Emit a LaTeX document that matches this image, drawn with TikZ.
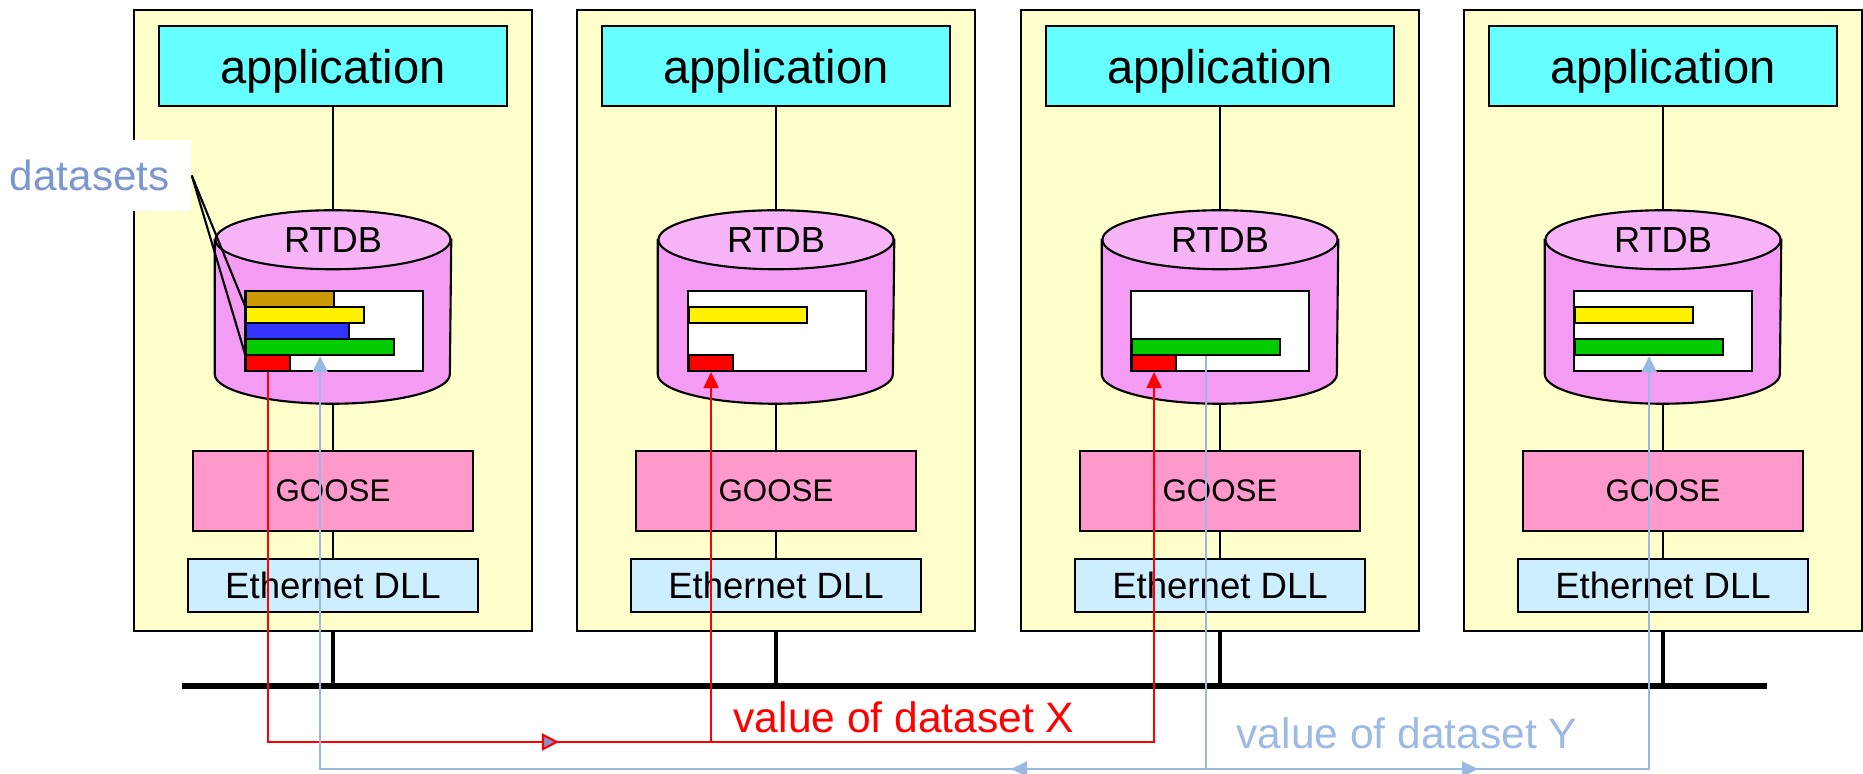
\documentclass[tikz,border=0pt]{standalone}
\usepackage{tikz}
\usepackage{xcolor}
\usepackage{fontspec}
\setmainfont{Liberation Sans}
\usetikzlibrary{arrows.meta}

\definecolor{devicebg}{HTML}{FFFFCC}
\definecolor{appcyan}{HTML}{66FFFF}
\definecolor{dbside}{HTML}{F49BF4}
\definecolor{dbtop}{HTML}{F6B3F6}
\definecolor{goosepink}{HTML}{FF99CC}
\definecolor{ethblue}{HTML}{CCEEFF}
\definecolor{barbrown}{HTML}{CC9900}
\definecolor{barblue}{HTML}{3333FF}
\definecolor{bargreen}{HTML}{00CC00}
\definecolor{flowblue}{HTML}{99B9E3}
\definecolor{labelblue}{HTML}{9DB9E4}
\definecolor{datasetblue}{HTML}{7C97CF}

\tikzset{
    >               = {Triangle[length=0.16cm,width=0.15cm]},
    device/.style = {
        rectangle,
        draw,
        fill            = devicebg,
        line width      = 0.6pt,
        minimum width   = 3.98cm,
        minimum height  = 6.21cm,
    },
    app/.style = {
        rectangle,
        draw,
        fill            = appcyan,
        line width      = 0.6pt,
        minimum width   = 3.48cm,
        minimum height  = 0.80cm,
        text depth      = 0pt,
        font            = \fontsize{13.4}{16}\selectfont,
    },
    rtdb/.style = {
        rectangle,
        inner sep       = 0pt,
        minimum width   = 2.35cm,
        minimum height  = 1.92cm,
    },
    dbbody/.style = {
        fill            = dbside,
        draw,
        line width      = 0.6pt,
    },
    dbcap/.style = {
        fill            = dbtop,
        draw,
        line width      = 0.6pt,
    },
    dblabel/.style = {
        inner sep       = 0pt,
        font            = \fontsize{10.3}{12}\selectfont,
    },
    datatable/.style = {
        rectangle,
        draw,
        fill            = white,
        line width      = 0.6pt,
        inner sep       = 0pt,
        minimum width   = 1.78cm,
        minimum height  = 0.80cm,
    },
    bar/.style = {
        rectangle,
        draw,
        line width      = 0.6pt,
        inner sep       = 0pt,
        minimum height  = 0.16cm,
        anchor          = west,
    },
    goose/.style = {
        rectangle,
        draw,
        fill            = goosepink,
        line width      = 0.6pt,
        minimum width   = 2.80cm,
        minimum height  = 0.80cm,
        font            = \fontsize{8.9}{11}\selectfont,
    },
    ethernet/.style = {
        rectangle,
        draw,
        fill            = ethblue,
        line width      = 0.6pt,
        minimum width   = 2.89cm,
        minimum height  = 0.53cm,
        font            = \fontsize{10.4}{12}\selectfont,
    },
    datasets/.style = {
        rectangle,
        fill            = white,
        text            = datasetblue,
        text width      = 1.71cm,
        align           = left,
        inner xsep      = 0.1cm,
        minimum height  = 0.71cm,
        font            = \fontsize{12}{14}\selectfont,
    },
    flowtext/.style = {
        anchor          = base west,
        inner sep       = 0pt,
        font            = \fontsize{12.1}{14}\selectfont,
    },
    link/.style = {
        line width      = 0.6pt,
    },
    stub/.style = {
        line width      = 1.4pt,
    },
    bus/.style = {
        line width      = 1.9pt,
    },
    xflow/.style = {
        draw            = red,
        line width      = 0.6pt,
    },
    yflow/.style = {
        draw            = flowblue,
        line width      = 0.6pt,
    },
}

% drum of an RTDB node
\newcommand{\rtdbdrum}[1]{%
  \filldraw[dbbody] ([yshift=-0.295cm]#1.north west) -- ([yshift=0.295cm]#1.south west)
    arc[start angle=180,end angle=360,x radius=1.175cm,y radius=0.295cm]
    -- ([yshift=-0.295cm]#1.north east) -- cycle;
  \filldraw[dbcap] ([yshift=-0.295cm]#1.north) ellipse[x radius=1.175cm,y radius=0.295cm];
}

\begin{document}
\begin{tikzpicture}[x=0.01cm,y=-0.01cm]
  \useasboundingbox (0,0) rectangle (1863,774);

  % Device 1
  \node[device] (Device1) at (333,320.5) {};
  \node[app] (App1) at (333,66) {application};
  \node[rtdb] (Db1) at (333,307) {};
  \rtdbdrum{Db1}
  \node[dblabel] (DbLabel1) at (333,240) {RTDB};
  \node[datatable] (Table1) at (334,331) {};
  \node[bar,fill=barbrown,minimum width=0.88cm] (Brown1) at (245,299) {};
  \node[bar,fill=yellow,minimum width=1.18cm] (Yellow1) at (245,315) {};
  \node[bar,fill=barblue,minimum width=1.03cm] (Blue1) at (245,331) {};
  \node[bar,fill=bargreen,minimum width=1.48cm] (Green1) at (245,347) {};
  \node[bar,fill=red,minimum width=0.44cm] (Red1) at (245,363) {};
  \node[goose] (Goose1) at (333,491) {GOOSE};
  \node[ethernet] (Eth1) at (333,585.5) {Ethernet DLL};

  \draw[-,link] (App1) to (Db1);
  \draw[-,link] (Db1) to (Goose1);
  \draw[-,link] (Goose1) to (Eth1);

  % Device 2
  \node[device] (Device2) at (776,320.5) {};
  \node[app] (App2) at (776,66) {application};
  \node[rtdb] (Db2) at (776,307) {};
  \rtdbdrum{Db2}
  \node[dblabel] (DbLabel2) at (776,240) {RTDB};
  \node[datatable] (Table2) at (777,331) {};
  \node[bar,fill=yellow,minimum width=1.18cm] (Yellow2) at (688,315) {};
  \node[bar,fill=red,minimum width=0.44cm] (Red2) at (688,363) {};
  \node[goose] (Goose2) at (776,491) {GOOSE};
  \node[ethernet] (Eth2) at (776,585.5) {Ethernet DLL};

  \draw[-,link] (App2) to (Db2);
  \draw[-,link] (Db2) to (Goose2);
  \draw[-,link] (Goose2) to (Eth2);

  % Device 3
  \node[device] (Device3) at (1220,320.5) {};
  \node[app] (App3) at (1220,66) {application};
  \node[rtdb] (Db3) at (1220,307) {};
  \rtdbdrum{Db3}
  \node[dblabel] (DbLabel3) at (1220,240) {RTDB};
  \node[datatable] (Table3) at (1220,331) {};
  \node[bar,fill=bargreen,minimum width=1.48cm] (Green3) at (1131,347) {};
  \node[bar,fill=red,minimum width=0.44cm] (Red3) at (1131,363) {};
  \node[goose] (Goose3) at (1220,491) {GOOSE};
  \node[ethernet] (Eth3) at (1220,585.5) {Ethernet DLL};

  \draw[-,link] (App3) to (Db3);
  \draw[-,link] (Db3) to (Goose3);
  \draw[-,link] (Goose3) to (Eth3);

  % Device 4
  \node[device] (Device4) at (1663,320.5) {};
  \node[app] (App4) at (1663,66) {application};
  \node[rtdb] (Db4) at (1663,307) {};
  \rtdbdrum{Db4}
  \node[dblabel] (DbLabel4) at (1663,240) {RTDB};
  \node[datatable] (Table4) at (1663,331) {};
  \node[bar,fill=yellow,minimum width=1.18cm] (Yellow4) at (1574,315) {};
  \node[bar,fill=bargreen,minimum width=1.48cm] (Green4) at (1574,347) {};
  \node[goose] (Goose4) at (1663,491) {GOOSE};
  \node[ethernet] (Eth4) at (1663,585.5) {Ethernet DLL};

  \draw[-,link] (App4) to (Db4);
  \draw[-,link] (Db4) to (Goose4);
  \draw[-,link] (Goose4) to (Eth4);

  % Bus
  \coordinate (BusLeft) at (182,686);
  \coordinate (BusRight) at (1767,686);
  \draw[-,stub] (Device1.south) to (Device1.south |- BusLeft);
  \draw[-,stub] (Device2.south) to (Device2.south |- BusLeft);
  \draw[-,stub] (Device3.south) to (Device3.south |- BusLeft);
  \draw[-,stub] (Device4.south) to (Device4.south |- BusLeft);
  \draw[-,bus] (BusLeft) to (BusRight);

  % Datasets
  \node[datasets] (Datasets) at (95.5,175.5) {datasets};
  \draw[-,link] (Datasets.east) to (Yellow1.north west);
  \draw[-,link] (Datasets.east) to (Red1.north west);

  % Dataset X
  \coordinate (XLine) at (0,742);
  \coordinate (XMid) at (559,742);
  \draw[->,xflow] (Red1.south) -- (Red1.south |- XLine) -- (Red3.south |- XLine) -- (Red3.south);
  \draw[->,xflow] (Red2.south |- XLine) -- (Red2.south);
  \draw[-{Triangle[length=0.17cm,width=0.17cm,fill=datasetblue]},xflow] (Red1.south |- XLine) -- (XMid);
  \node[flowtext,text=red] (XLabel) at (733,733) {value of dataset X};

  % Dataset Y
  \coordinate (YLine) at (0,769);
  \coordinate (YMidLeft) at (1011,769);
  \coordinate (YMidRight) at (1478,769);
  \draw[->,yflow] (Green3.south) -- (Green3.south |- YLine) -- (Green1.south |- YLine) -- (Green1.south);
  \draw[->,yflow] (Green3.south |- YLine) -- (Green4.south |- YLine) -- (Green4.south);
  \draw[->,yflow] (Green3.south |- YLine) -- (YMidLeft);
  \draw[->,yflow] (Green3.south |- YLine) -- (YMidRight);
  \node[flowtext,text=labelblue] (YLabel) at (1236,749) {value of dataset Y};

\end{tikzpicture}
\end{document}
